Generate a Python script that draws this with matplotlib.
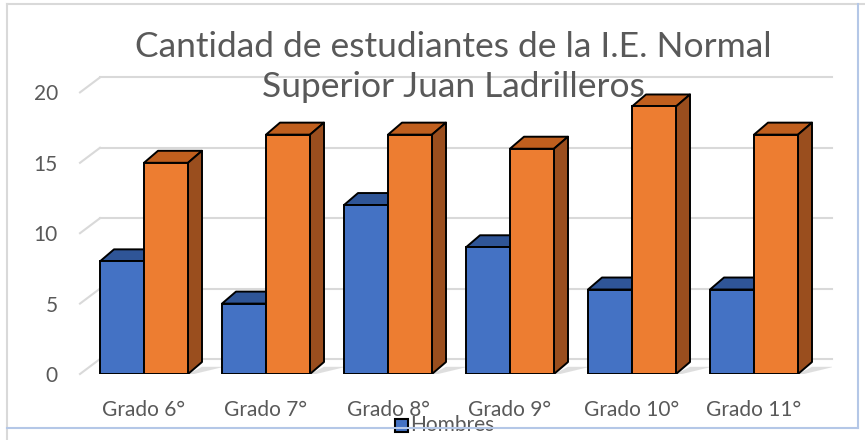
import matplotlib
matplotlib.use("Agg")
import matplotlib.pyplot as plt
from matplotlib.patches import Polygon, Rectangle
from matplotlib.lines import Line2D

categories = ["Grado 6°", "Grado 7°", "Grado 8°", "Grado 9°", "Grado 10°", "Grado 11°"]
hombres = [8, 5, 12, 9, 6, 6]
mujeres = [15, 17, 17, 16, 19, 17]
yticks = [0, 5, 10, 15, 20]
title = "Cantidad de estudiantes de la I.E. Normal\nSuperior Juan Ladrilleros"
legend_label = "Hombres"

W, H = 865, 440
fig = plt.figure(figsize=(W / 100, H / 100), dpi=100)
fig.patch.set_facecolor("white")

FONT = ["Lato", "DejaVu Sans"]
TXT = "#595959"

# axes in pixel geometry
px_left, px_right = 80, 832
px_base, px_top = 374, 60
ppu_x = 122.0
ppu_y = 14.08
x_center0 = 144
ax = fig.add_axes([px_left / W, 1 - px_base / H, (px_right - px_left) / W, (px_base - px_top) / H])
ax.set_xlim((px_left - x_center0) / ppu_x, (px_right - x_center0) / ppu_x)
ax.set_ylim(0, (px_base - px_top) / ppu_y)
for s in ax.spines.values():
    s.set_visible(False)
ax.set_facecolor("none")

bw = 44 / ppu_x
dx = 14 / ppu_x
dy = 12 / ppu_y
gdx = 20 / ppu_x
gdy = 15 / ppu_y
x0g = ax.get_xlim()[0]
x1g = ax.get_xlim()[1]

# back-wall gridlines
for v in yticks:
    col = "#D9D9D9"
    ax.plot([x0g, x0g + gdx], [v, v + gdy], color=col, lw=1.5, zorder=1, clip_on=False)
    ax.plot([x0g + gdx, x1g], [v + gdy, v + gdy], color=col, lw=1.5, zorder=1, clip_on=False)

blue_f, blue_t = "#4472C4", "#2F5597"
or_f, or_t, or_s = "#ED7D31", "#C05F1E", "#9A4E1E"
EC = "black"
LW = 1.4

for i, (hv, mv) in enumerate(zip(hombres, mujeres)):
    # floor shadow
    xr = i + bw
    sh = Polygon([(xr, 0), (xr + dx, dy * 0.6), (xr + dx + 0.18, dy * 0.6), (xr + 0.05, 0)],
                 closed=True, facecolor="#BFBFBF", edgecolor="none", alpha=0.5, zorder=2)
    ax.add_patch(sh)
    # blue bar
    bx0, bx1 = i - bw, i
    ax.add_patch(Polygon([(bx0, hv), (bx1, hv), (bx1 + dx, hv + dy), (bx0 + dx, hv + dy)],
                         closed=True, facecolor=blue_t, edgecolor=EC, lw=LW, zorder=3, joinstyle="round"))
    ax.bar(bx0, hv, width=bw, align="edge", color=blue_f, edgecolor=EC, linewidth=LW, zorder=4)
    # orange bar
    ox0, ox1 = i, i + bw
    ax.add_patch(Polygon([(ox0, mv), (ox1, mv), (ox1 + dx, mv + dy), (ox0 + dx, mv + dy)],
                         closed=True, facecolor=or_t, edgecolor=EC, lw=LW, zorder=5, joinstyle="round"))
    ax.add_patch(Polygon([(ox1, 0), (ox1 + dx, dy), (ox1 + dx, mv + dy), (ox1, mv)],
                         closed=True, facecolor=or_s, edgecolor=EC, lw=LW, zorder=5, joinstyle="round"))
    ax.bar(ox0, mv, width=bw, align="edge", color=or_f, edgecolor=EC, linewidth=LW, zorder=6)

ax.set_xticks(range(len(categories)))
ax.set_xticklabels(categories, fontfamily=FONT, fontsize=15, color=TXT)
ax.set_yticks(yticks)
ax.set_yticklabels([str(v) for v in yticks], fontfamily=FONT, fontsize=15, color=TXT)
ax.tick_params(axis="both", length=0)
ax.tick_params(axis="x", pad=19)
ax.tick_params(axis="y", pad=16)

# title
fig.text(453 / W, 1 - 67 / H, title, ha="center", va="center", fontfamily=FONT,
         fontsize=25.5, color=TXT, linespacing=1.32, zorder=20)

# legend
fig.add_artist(Rectangle((395 / W, 1 - 432 / H), 13 / W, 13 / H, transform=fig.transFigure,
                         facecolor=blue_f, edgecolor=EC, lw=1.5, zorder=10))
fig.text(410 / W, 1 - 425 / H, legend_label, ha="left", va="center", fontfamily=FONT,
         fontsize=15, color=TXT, zorder=10)

# chart border fragments
fig.add_artist(Line2D([7 / W, 7 / W], [1 - 4 / H, 1 - 440 / H], transform=fig.transFigure, color="#D9D9D9", lw=1.5))
fig.add_artist(Line2D([7 / W, 1], [1 - 4 / H, 1 - 4 / H], transform=fig.transFigure, color="#D9D9D9", lw=1.5))
fig.add_artist(Line2D([7 / W, 858 / W], [1 - 428 / H, 1 - 428 / H], transform=fig.transFigure, color="#B4C7E7", lw=1.5, zorder=30))
fig.add_artist(Line2D([858 / W, 858 / W], [1 - 4 / H, 1 - 428 / H], transform=fig.transFigure, color="#B4C7E7", lw=1.5))

fig.savefig("out.png", dpi=100, facecolor="white")
